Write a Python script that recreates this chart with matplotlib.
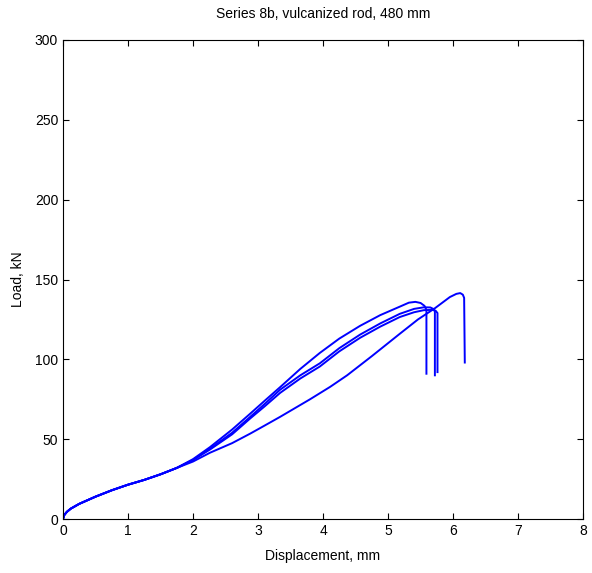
import numpy as np
import matplotlib; matplotlib.use("Agg")
import matplotlib.pyplot as plt

plt.rcParams["font.family"] = ["Liberation Sans", "DejaVu Sans"]

# shared initial branch (all four tests)
X0 = [0, 0.02, 0.06, 0.12, 0.25, 0.5, 0.75, 1.0, 1.25, 1.5, 1.75]
Y0 = [0, 2.5, 4.5, 6.5, 9.5, 14, 18, 21.5, 24.5, 28, 32]

# test A: highest, early failure
XA = [2.0, 2.26, 2.6, 2.88, 3.1, 3.34, 3.65, 3.95, 4.25, 4.57, 4.88, 5.18, 5.32, 5.42, 5.5, 5.56, 5.59, 5.59]
YA = [37.5, 45, 56, 66, 74, 82.6, 94, 104, 113, 121, 127.7, 133, 135.5, 136, 135.3, 133.5, 131, 91]
# test B
XB = [2.0, 2.26, 2.6, 2.88, 3.1, 3.34, 3.65, 3.95, 4.25, 4.57, 4.88, 5.18, 5.4, 5.55, 5.65, 5.7, 5.72, 5.72]
YB = [37, 44, 54, 64, 72, 81, 90, 97.5, 107, 115.5, 122.5, 128.5, 131.6, 132.6, 132.5, 131.5, 130, 90]
# test C
XC = [2.0, 2.26, 2.6, 2.88, 3.1, 3.34, 3.65, 3.95, 4.25, 4.57, 4.88, 5.18, 5.4, 5.55, 5.68, 5.73, 5.76, 5.76]
YC = [37, 43.5, 53, 63, 70.5, 79, 88, 95.5, 105, 113.5, 120.5, 126.5, 129.5, 130.8, 131, 130.5, 129, 92]
# test D: softer, latest failure
XD = [2.0, 2.26, 2.6, 2.88, 3.1, 3.34, 3.8, 4.11, 4.37, 4.75, 5.18, 5.46, 5.72, 5.95, 6.05, 6.11, 6.15, 6.17, 6.18]
YD = [36, 41.5, 47.5, 53.5, 58.5, 64, 75, 82.8, 90, 102, 116, 125, 132, 139, 141, 141.5, 140.5, 138.5, 98]

fig = plt.figure(figsize=(5.92, 5.73), dpi=100)
ax = fig.add_axes([0.1064, 0.0942, 0.8786, 0.8360])

for xs, ys in [(XA, YA), (XB, YB), (XC, YC), (XD, YD)]:
    ax.plot(X0 + xs, Y0 + ys, color="#0000ff", lw=1.4)

ax.set_xlim(0, 8)
ax.set_ylim(0, 300)
ax.set_xticks(range(0, 9))
ax.set_yticks(range(0, 301, 50))
ax.tick_params(direction="in", top=True, right=True, labelsize=10, length=4)
ax.set_xlabel("Displacement, mm", fontsize=10, labelpad=8)
ax.set_ylabel("Load, kN", fontsize=10, labelpad=7)
ax.set_title("Series 8b, vulcanized rod, 480 mm", fontsize=10, pad=16)

fig.savefig("out.png", dpi=100)
